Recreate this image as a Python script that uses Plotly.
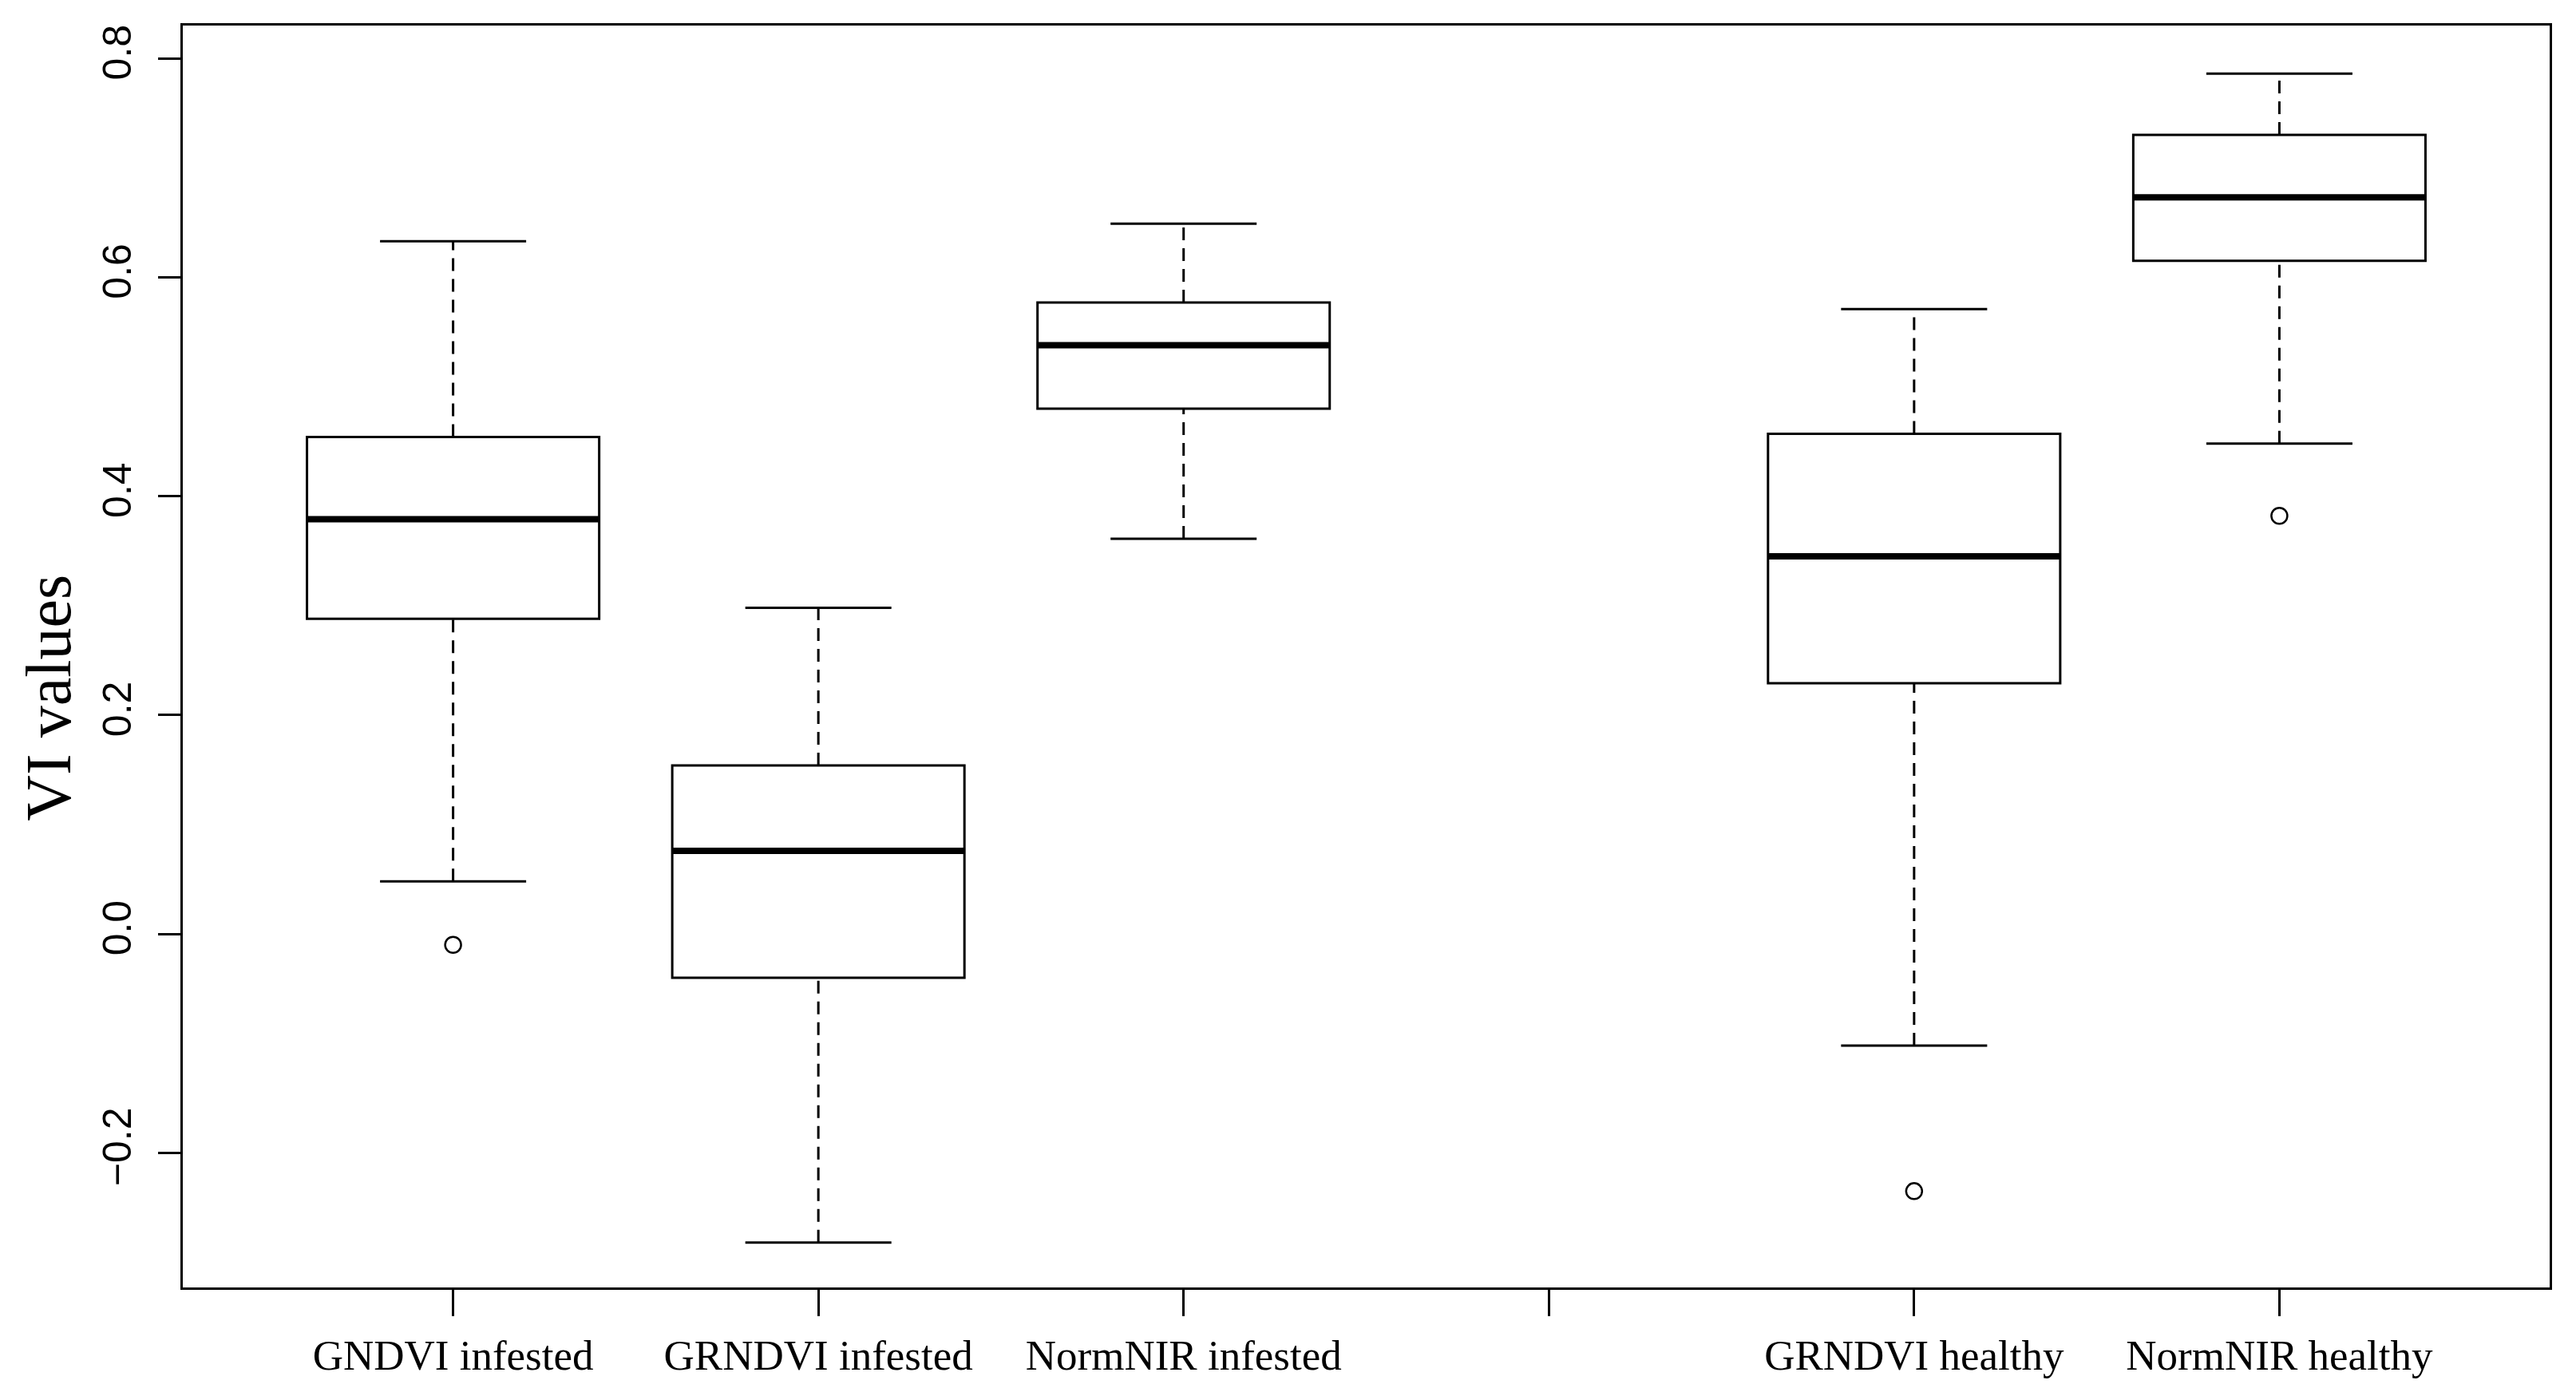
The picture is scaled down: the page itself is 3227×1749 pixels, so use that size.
import plotly.graph_objects as go

# ---- data ----
labels = ["GNDVI infested", "GRNDVI infested", "NormNIR infested", "", "GRNDVI healthy", "NormNIR healthy"]
positions = [1, 2, 3, 4, 5, 6]
lower_whisker = [0.048, -0.282, 0.361, None, -0.102, 0.448]
q1 = [0.288, -0.040, 0.480, None, 0.229, 0.615]
median = [0.379, 0.076, 0.538, None, 0.345, 0.673]
q3 = [0.454, 0.154, 0.577, None, 0.457, 0.730]
upper_whisker = [0.633, 0.298, 0.649, None, 0.571, 0.786]
outlier_pos = [1, 5, 6]
outlier_val = [-0.010, -0.235, 0.382]
y_ticks = [-0.2, 0.0, 0.2, 0.4, 0.6, 0.8]
y_ticktext = ["\u22120.2", "0.0", "0.2", "0.4", "0.6", "0.8"]

BOX_W = 0.8
CAP_W = 0.4

fig = go.Figure()

# whiskers (dashed) drawn first so boxes cover them
for p, lw, a, b, uw in zip(positions, lower_whisker, q1, q3, upper_whisker):
    if lw is None:
        continue
    fig.add_trace(go.Scatter(x=[p, p, None, p, p], y=[lw, a, None, b, uw], mode="lines",
                             line=dict(color="black", width=3, dash="16px,10px"),
                             showlegend=False, hoverinfo="skip"))
    fig.add_trace(go.Scatter(x=[p - CAP_W / 2, p + CAP_W / 2, None, p - CAP_W / 2, p + CAP_W / 2],
                             y=[lw, lw, None, uw, uw], mode="lines",
                             line=dict(color="black", width=3),
                             showlegend=False, hoverinfo="skip"))

# boxes
for p, a, m, b in zip(positions, q1, median, q3):
    if a is None:
        continue
    fig.add_trace(go.Box(x=[p], q1=[a], median=[m], q3=[b], lowerfence=[a], upperfence=[b],
                         width=BOX_W, fillcolor="white", line=dict(color="black", width=3),
                         boxpoints=False, showlegend=False, hoverinfo="skip"))
    fig.add_trace(go.Scatter(x=[p - BOX_W / 2, p + BOX_W / 2], y=[m, m], mode="lines",
                             line=dict(color="black", width=8),
                             showlegend=False, hoverinfo="skip"))

# outliers
fig.add_trace(go.Scatter(x=outlier_pos, y=outlier_val, mode="markers",
                         marker=dict(symbol="circle-open", size=20, color="black", line=dict(width=2.5)),
                         showlegend=False, hoverinfo="skip"))

fig.update_layout(
    width=3211, height=1733,
    margin=dict(l=221, r=25, t=24, b=128),
    paper_bgcolor="white", plot_bgcolor="white",
    xaxis=dict(range=[0.26, 6.74], tickmode="array", tickvals=positions, ticktext=labels,
               automargin=False,
               showgrid=False, zeroline=False, showline=True, mirror=True,
               linecolor="black", linewidth=3, ticks="outside", ticklen=33, tickwidth=3,
               tickcolor="black", ticklabelstandoff=3,
               tickfont=dict(family="Liberation Serif", size=53, color="black")),
    yaxis=dict(range=[-0.323, 0.83], tickmode="array",
               tickvals=y_ticks, ticktext=y_ticktext,
               tickangle=-90, automargin=False,
               showgrid=False, zeroline=False, showline=True, mirror=True,
               linecolor="black", linewidth=3, ticks="outside", ticklen=28, tickwidth=3,
               tickcolor="black", ticklabelstandoff=14,
               tickfont=dict(family="Liberation Sans", size=50, color="black")),
    annotations=[dict(text="VI values", xref="paper", yref="paper", x=0, y=0.467,
                      xanchor="center", yanchor="middle", xshift=-168, textangle=-90,
                      showarrow=False,
                      font=dict(family="Liberation Serif", size=80, color="black"))],
)

fig.write_html("out.html")
